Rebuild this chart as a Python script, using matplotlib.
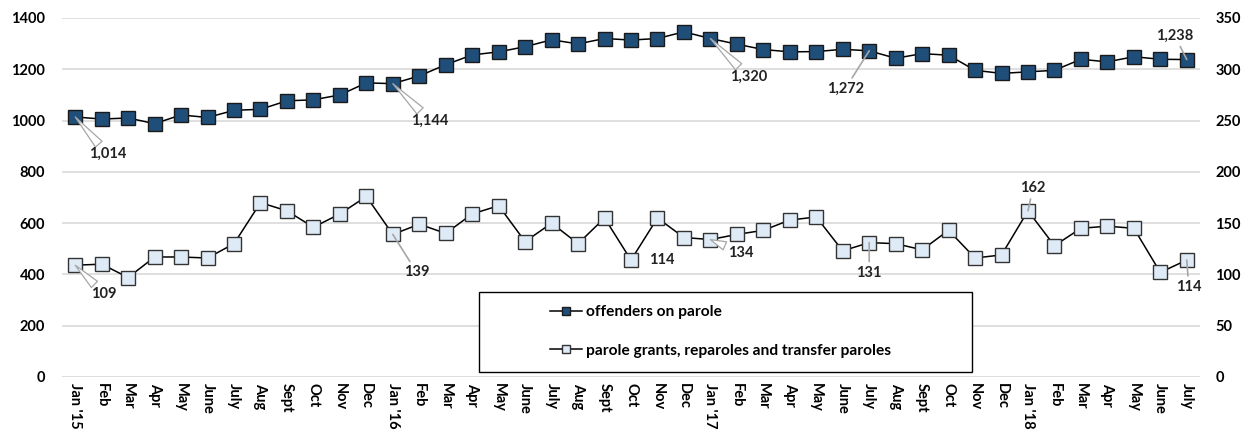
import numpy as np
import matplotlib
matplotlib.use('Agg')
import matplotlib.pyplot as plt
from matplotlib.patches import Rectangle

plt.rcParams['font.family'] = ['Lato', 'DejaVu Sans']
plt.rcParams['font.weight'] = 'bold'

# Etiquetas de meses (Jan '15 a July '18)
months = ["Jan '15", 'Feb', 'Mar', 'Apr', 'May', 'June', 'July', 'Aug', 'Sept', 'Oct', 'Nov', 'Dec',
          "Jan '16", 'Feb', 'Mar', 'Apr', 'May', 'June', 'July', 'Aug', 'Sept', 'Oct', 'Nov', 'Dec',
          "Jan '17", 'Feb', 'Mar', 'Apr', 'May', 'June', 'July', 'Aug', 'Sept', 'Oct', 'Nov', 'Dec',
          "Jan '18", 'Feb', 'Mar', 'Apr', 'May', 'June', 'July']

# Eje izquierdo
offenders = [1014, 1006, 1010, 988, 1022, 1012, 1040, 1044, 1077, 1081, 1100, 1147,
             1144, 1174, 1218, 1256, 1268, 1288, 1315, 1299, 1320, 1314, 1320, 1346,
             1320, 1298, 1277, 1268, 1269, 1278, 1272, 1243, 1261, 1255, 1196, 1184,
             1190, 1196, 1239, 1229, 1249, 1239, 1238]

# Eje derecho
grants = [109, 110, 97, 117, 117, 116, 130, 170, 162, 146, 159, 176,
          139, 149, 140, 159, 167, 132, 150, 130, 155, 114, 155, 136,
          134, 139, 143, 153, 156, 123, 131, 130, 124, 143, 116, 119,
          162, 128, 145, 147, 145, 102, 114]

# Etiquetas de datos: (indice, desplazamiento x, desplazamiento y en pixeles, estilo)
off_labels = [(0, 32, -37, 'wedge'), (12, 37, -37, 'wedge'), (24, 38, -38, 'wedge'),
              (30, -24, -38, 'line'), (42, -12, 24, 'line')]
grant_labels = [(0, 29, -29, 'wedge'), (12, 24, -38, 'line'), (21, 31, 0, None),
                (24, 30, -13, 'wedge'), (30, 0, -30, 'line'), (36, 5, 23, 'line'),
                (42, 2, -27, 'line')]

x = np.arange(len(months))

fig = plt.figure(figsize=(12.52, 4.34), dpi=100)
ax = fig.add_axes([62 / 1252, 57 / 434, 1138 / 1252, 359 / 434])
ax2 = ax.twinx()

l1, = ax.plot(x, offenders, color='black', lw=1.1, marker='s', ms=10.5,
              mfc='#1f4e79', mec='#1a1a1a', mew=1.0, label='offenders on parole', zorder=3)
l2, = ax2.plot(x, grants, color='black', lw=1.1, marker='s', ms=10.5,
               mfc='#deebf7', mec='#333333', mew=1.0,
               label='parole grants, reparoles and transfer paroles', zorder=3)

ax.set_xlim(-0.5, len(months) - 0.5)
ax.set_ylim(0, 1400)
ax2.set_ylim(0, 350)
ax.set_yticks(range(0, 1401, 200))
ax2.set_yticks(range(0, 351, 50))
ax.grid(axis='y', color='#d9d9d9', lw=1.2)
ax.set_axisbelow(True)

ax.set_xticks(x)
ax.set_xticklabels(months, rotation=-90, fontsize=10, fontweight='bold', va='top', ha='center')
for a in (ax, ax2):
    for s in a.spines.values():
        s.set_visible(False)
    a.tick_params(length=0, labelsize=10.5)
ax.tick_params(axis='y', pad=12)
ax2.tick_params(axis='y', pad=11)
ax.tick_params(axis='x', pad=4)


def add_labels(axis, values, specs):
    for i, dx, dy, style in specs:
        props = None
        if style == 'wedge':
            props = dict(arrowstyle='wedge,tail_width=0.6', fc='white', ec='#a6a6a6', lw=0.9,
                         shrinkA=0, shrinkB=0)
        elif style == 'line':
            props = dict(arrowstyle='-', color='#a6a6a6', lw=1.2, shrinkA=1, shrinkB=0)
        axis.annotate(f'{values[i]:,}', xy=(x[i], values[i]), xytext=(dx, dy),
                      textcoords='offset pixels', ha='center', va='center',
                      fontsize=10.5, fontweight='bold', color='#222222',
                      arrowprops=props, zorder=4)


add_labels(ax, offenders, off_labels)
add_labels(ax2, grants, grant_labels)

# Caja de la leyenda (en pixeles de la figura)
box = Rectangle((479 / 1252, (434 - 372) / 434), 493 / 1252, 80 / 434, transform=fig.transFigure,
                fc='white', ec='black', lw=1.0, zorder=5)
fig.patches.append(box)
leg = fig.legend(handles=[l1, l2], loc='upper left', bbox_to_anchor=(550 / 1252, (434 - 305) / 434),
                 frameon=False, fontsize=11.2, labelspacing=1.6, handlelength=2.05,
                 handletextpad=0.25, borderpad=0, borderaxespad=0, markerscale=0.6)
leg.set_zorder(6)
for t in leg.get_texts():
    t.set_fontweight('bold')

fig.savefig('out.png', dpi=100)
